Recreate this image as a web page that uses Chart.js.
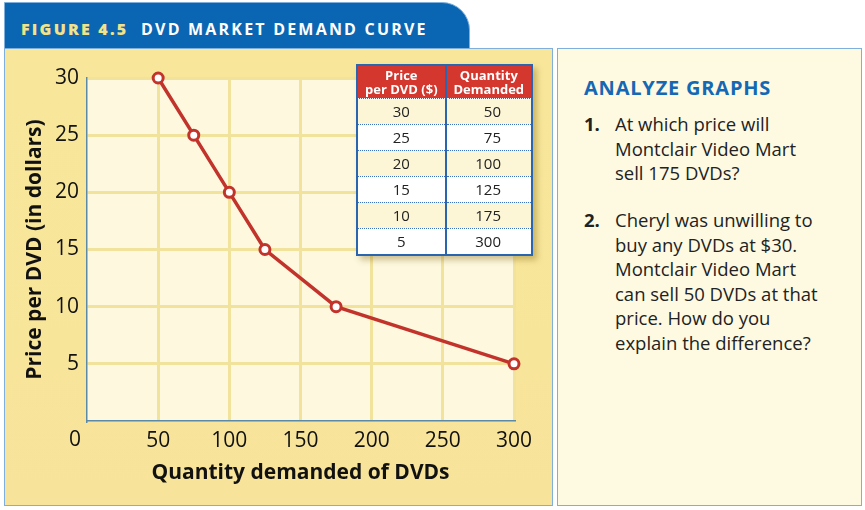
<!DOCTYPE html>
<html><head><meta charset="utf-8">
<script src="https://cdn.jsdelivr.net/npm/chart.js@4"></script>
<style>
body{margin:0;width:865px;height:510px;background:#fff;font-family:"Open Sans",sans-serif;overflow:hidden;position:relative}
#tab{position:absolute;left:4px;top:2px;width:466px;height:48px;background:#0a66b2;border-radius:0 28px 0 0;border:1px solid #7fb0dc;box-sizing:border-box}
#tab span{position:absolute;left:16px;top:15px;font-weight:bold;font-size:16px;letter-spacing:2.2px;color:#fff;white-space:nowrap}
#tab b{color:#f2e38a}
#left{position:absolute;left:4px;top:48px;width:549px;height:458px;background:linear-gradient(#f8e79a,#f7e49a);border:1px solid #7fb0dc;box-sizing:border-box}
#right{position:absolute;left:557px;top:48px;width:305px;height:458px;background:#fefae2;border:1px solid #7fb0dc;box-sizing:border-box}
#cv{position:absolute;left:0;top:0}
table{position:absolute;left:356px;top:64px;width:177px;height:192px;border-collapse:collapse;border:2px solid #2a66b0;box-shadow:4px 4px 6px rgba(120,90,0,.35);font-size:15px;color:#222}
th{background:#d4372e;color:#fff;font-size:13px;font-weight:bold;line-height:14px;padding:2px 0;border-bottom:1px dotted #fff}
td{text-align:center;border-bottom:1px dotted #3a72c0;height:24px;padding:0}
th+th,td+td{border-left:2px solid #2a66b0}
tr:nth-child(odd) td{background:#fdf6d6}
tr:nth-child(even) td{background:#fff}
td+td{text-align:right;padding-right:30px}
#ag{position:absolute;left:584px;top:74px;font-weight:bold;font-size:20px;letter-spacing:.8px;color:#1468b4}
.q{position:absolute;left:584px;font-size:18.5px;line-height:24.5px;color:#222;width:245px}
.q b{position:absolute;left:0}
.q div{margin-left:31px}
</style></head><body>
<div id="tab"><span><b>FIGURE 4.5</b>&nbsp;&nbsp;DVD MARKET DEMAND CURVE</span></div>
<div id="left"></div><div id="right"></div>
<canvas id="cv" width="555" height="510"></canvas>
<table id="tbl"><thead><tr><th>Price<br>per DVD ($)</th><th>Quantity<br>Demanded</th></tr></thead><tbody></tbody></table>
<div id="ag">ANALYZE GRAPHS</div>
<div class="q" style="top:112px"><b>1.</b><div>At which price will Montclair Video Mart sell 175 DVDs?</div></div>
<div class="q" style="top:208px"><b>2.</b><div>Cheryl was unwilling to buy any DVDs at $30. Montclair Video Mart can sell 50 DVDs at that price. How do you explain the difference?</div></div>
<script>
const prices=[30,25,20,15,10,5];
const quantities=[50,75,100,125,175,300];
const xTicks=[50,100,150,200,250,300];
const yTicks=[5,10,15,20,25,30];
const tb=document.querySelector('#tbl tbody');
prices.forEach((p,i)=>{tb.insertAdjacentHTML('beforeend',`<tr><td>${p}</td><td>${quantities[i]}</td></tr>`)});
const F='"Open Sans", sans-serif';
const originLabel={id:'o',afterDraw(c){const x=c.ctx,a=c.chartArea;x.save();x.font='21px '+F;x.fillStyle='#111';x.textAlign='center';x.textBaseline='middle';x.fillText('0',a.left-12,a.bottom+19);x.restore();}};
const plotBg={id:'bg',beforeDraw(c){const a=c.chartArea;c.ctx.fillStyle='#fdf8de';c.ctx.fillRect(a.left,a.top,a.width,a.height);}};
new Chart(document.getElementById('cv'),{type:'line',
data:{datasets:[{data:quantities.map((q,i)=>({x:q,y:prices[i]})),borderColor:'#c2342b',borderWidth:3.5,pointBackgroundColor:'#fff',pointBorderColor:'#c2342b',pointBorderWidth:3,pointRadius:5,tension:0,clip:false}]},
options:{responsive:false,animation:false,layout:{padding:{top:78,right:41,left:18,bottom:20}},
plugins:{legend:{display:false},tooltip:{enabled:false}},
scales:{
x:{type:'linear',min:0,max:300,afterFit(s){s.height=69},afterBuildTicks(s){s.ticks=xTicks.map(v=>({value:v}))},
 grid:{color:'#f1e29c',lineWidth:3,drawTicks:false},border:{color:'#5a8aa8',width:1.5},
 ticks:{font:{size:21,family:F},color:'#111',padding:7,maxRotation:0},
 title:{display:true,text:'Quantity demanded of DVDs',font:{size:21,weight:'bold',family:F},color:'#111',padding:{top:2}}},
y:{min:0,max:30,afterFit(s){s.width=69},afterBuildTicks(s){s.ticks=yTicks.map(v=>({value:v}))},
 grid:{color:'#f1e29c',lineWidth:3,drawTicks:false},border:{color:'#5a8aa8',width:1.5},
 ticks:{font:{size:21,family:F},color:'#111',padding:8},
 title:{display:true,text:'Price per DVD (in dollars)',font:{size:21,weight:'bold',family:F},color:'#111',padding:{bottom:0}}}}},
plugins:[plotBg,originLabel]});
</script></body></html>
